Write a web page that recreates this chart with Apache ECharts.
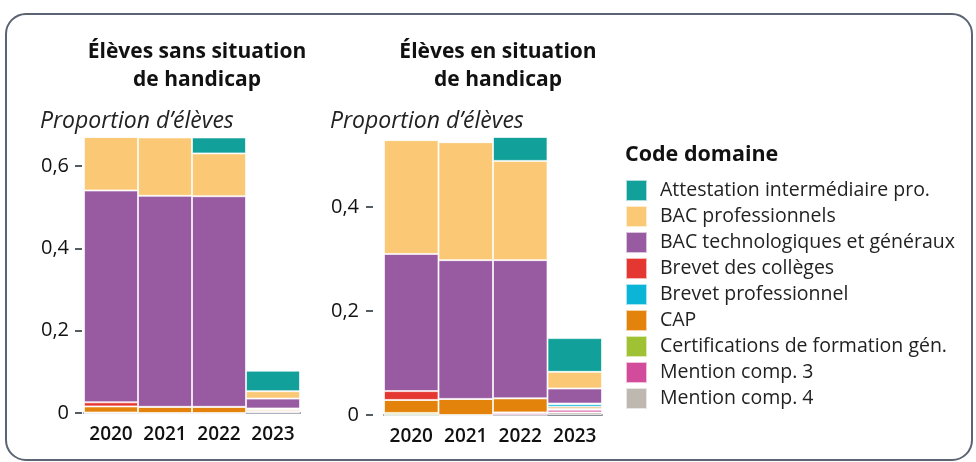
<!DOCTYPE html>
<html>
<head>
<meta charset="utf-8">
<script src="https://cdn.jsdelivr.net/npm/echarts@6/dist/echarts.min.js"></script>
<style>
  html, body { margin: 0; padding: 0; background: #fff; }
  #chart { width: 976px; height: 462px; }
</style>
</head>
<body>
<div id="chart"></div>
<script>
// années
const years = ['2020', '2021', '2022', '2023']
const yTicks = [0, 0.2, 0.4, 0.6]

// légende (ordre affiché, de haut en bas)
const domaines = [
  'Attestation intermédiaire pro.',
  'BAC professionnels',
  'BAC technologiques et généraux',
  'Brevet des collèges',
  'Brevet professionnel',
  'CAP',
  'Certifications de formation gén.',
  'Mention comp. 3',
  'Mention comp. 4'
]
const couleurs = ['#12a19a', '#fbc875', '#985ba1', '#e53731', '#0bb5d8', '#e3830b', '#9ec234', '#d34b9b', '#bfb8b0']

// Élèves sans situation de handicap
const sansAttestation = [0, 0, 0.039, 0.050]
const sansBacPro = [0.130, 0.142, 0.104, 0.018]
const sansBacTechno = [0.515, 0.513, 0.512, 0.024]
const sansBrevetColleges = [0.010, 0, 0, 0.001]
const sansBrevetPro = [0, 0, 0, 0.001]
const sansCap = [0.015, 0.015, 0.015, 0.004]
const sansCertif = [0.001, 0, 0, 0.001]
const sansMc3 = [0, 0, 0, 0.003]
const sansMc4 = [0, 0, 0, 0.001]

// Élèves en situation de handicap
const avecAttestation = [0, 0, 0.046, 0.065]
const avecBacPro = [0.219, 0.227, 0.191, 0.032]
const avecBacTechno = [0.264, 0.267, 0.266, 0.029]
const avecBrevetColleges = [0.017, 0, 0, 0.001]
const avecBrevetPro = [0, 0, 0, 0.005]
const avecCap = [0.025, 0.031, 0.027, 0.004]
const avecCertif = [0.004, 0, 0.001, 0.002]
const avecMc3 = [0, 0, 0.004, 0.005]
const avecMc4 = [0, 0, 0, 0.005]

const sansData = [sansAttestation, sansBacPro, sansBacTechno, sansBrevetColleges, sansBrevetPro, sansCap, sansCertif, sansMc3, sansMc4]
const avecData = [avecAttestation, avecBacPro, avecBacTechno, avecBrevetColleges, avecBrevetPro, avecCap, avecCertif, avecMc3, avecMc4]

const font = 'Open Sans'
const fmt = v => String(v).replace('.', ',')

const makeXAxis = (gridIndex) => ({
  type: 'category',
  gridIndex,
  data: years,
  axisLine: { lineStyle: { color: '#8a8f96', width: 2 } },
  axisTick: { show: false },
  axisLabel: { interval: 0, hideOverlap: false, color: '#111', fontFamily: font, fontSize: 19, fontWeight: 600, margin: 12 }
})

const makeYAxis = (gridIndex, offset, margin) => ({
  type: 'value',
  gridIndex,
  min: 0,
  max: v => v.max,
  offset,
  splitLine: { show: false },
  axisLine: { show: false },
  axisTick: { show: true, length: 7, customValues: yTicks, lineStyle: { color: '#555b63', width: 2 } },
  axisLabel: { customValues: yTicks, formatter: fmt, color: '#111', fontFamily: font, fontSize: 20, fontWeight: 500, margin }
})

// empilement du bas vers le haut = ordre inverse de la légende
const makeSeries = (data, idx) => {
  const out = []
  for (let i = domaines.length - 1; i >= 0; i--) {
    out.push({
      name: domaines[i],
      type: 'bar',
      stack: 'g' + idx,
      xAxisIndex: idx,
      yAxisIndex: idx,
      barCategoryGap: '0%',
      data: data[i],
      itemStyle: { color: couleurs[i], borderColor: 'rgba(255,255,255,0.65)', borderWidth: 1 }
    })
  }
  return out
}

const titleStyle = { fontFamily: font, fontSize: 21, fontWeight: 'bold', color: '#111', lineHeight: 28 }
const subStyle = { fontFamily: font, fontSize: 23, fontStyle: 'italic', fontWeight: 'normal', color: '#222' }

const chart = echarts.init(document.getElementById('chart'))
chart.setOption({
  animation: false,
  title: [
    { text: 'Élèves sans situation\nde handicap', left: 192, top: 33, textAlign: 'center', textStyle: titleStyle },
    { text: 'Élèves en situation\nde handicap', left: 493, top: 33, textAlign: 'center', textStyle: titleStyle },
    { text: 'Proportion d’élèves', left: 35, top: 105, textStyle: subStyle },
    { text: 'Proportion d’élèves', left: 325, top: 105, textStyle: subStyle },
    { text: 'Code domaine', left: 620, top: 139, textStyle: { fontFamily: font, fontSize: 21.5, fontWeight: 'bold', color: '#111' } }
  ],
  legend: {
    data: domaines,
    orient: 'vertical',
    left: 620,
    top: 174,
    icon: 'rect',
    itemWidth: 21,
    itemHeight: 21,
    itemGap: 3,
    textStyle: { fontFamily: font, fontSize: 19.5, lineHeight: 20, color: '#222', padding: [0, 0, 0, 8] }
  },
  grid: [
    { left: 84, width: 216, top: 137, bottom: 49 },
    { left: 384, width: 218, top: 137, bottom: 47 }
  ],
  xAxis: [makeXAxis(0), makeXAxis(1)],
  yAxis: [makeYAxis(0, 2, 13), makeYAxis(1, 11, 14)],
  series: [...makeSeries(sansData, 0), ...makeSeries(avecData, 1)],
  graphic: [{
    type: 'rect',
    shape: { x: 6, y: 14, width: 966, height: 446, r: 20 },
    style: { fill: 'none', stroke: '#5b6472', lineWidth: 2 },
    silent: true
  }]
})
</script>
</body>
</html>
